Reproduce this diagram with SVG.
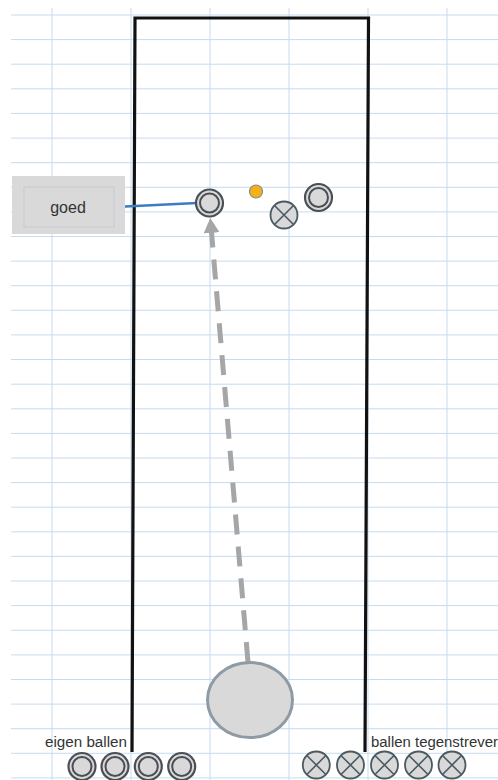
<svg xmlns="http://www.w3.org/2000/svg" width="498" height="780" viewBox="0 0 498 780">
<defs>
<style>
.grid line{stroke:#c6dbef;stroke-width:1}
.ball-o{fill:#d9d9d9;stroke:#4a4f55;stroke-width:2.2}
.ball-i{fill:none;stroke:#4a4f55;stroke-width:2}
.xb{fill:#d9d9d9;stroke:#4a5a62;stroke-width:1.8}
.xl{stroke:#4a5a62;stroke-width:1.6;fill:none}
.lbl{font-family:"Liberation Sans",Arial,sans-serif;font-size:14px;fill:#333}
</style>
<marker id="ah" markerUnits="userSpaceOnUse" markerWidth="16" markerHeight="16" viewBox="0 0 16 16" refX="15" refY="8" orient="auto">
<path d="M0,0 L15,8 L0,16 Z" fill="#a6a6a6"/>
</marker>
<g id="ownball"><circle class="ball-o" r="13.5"/><circle class="ball-i" r="9.5"/></g>
<g id="oppball"><circle class="xb" r="13.5"/><path class="xl" d="M-9.5,-9.5 L9.5,9.5 M9.5,-9.5 L-9.5,9.5"/></g>
</defs>
<rect width="498" height="780" fill="#fff"/>
<g class="grid" id="grid">
<line x1="52" y1="8" x2="52" y2="780"/>
<line x1="131" y1="8" x2="131" y2="780"/>
<line x1="210" y1="8" x2="210" y2="780"/>
<line x1="289" y1="8" x2="289" y2="780"/>
<line x1="368" y1="8" x2="368" y2="780"/>
<line x1="447" y1="8" x2="447" y2="780"/>
<line x1="11" y1="15" x2="498" y2="15"/>
<line x1="11" y1="39.6" x2="498" y2="39.6"/>
<line x1="11" y1="64.2" x2="498" y2="64.2"/>
<line x1="11" y1="88.8" x2="498" y2="88.8"/>
<line x1="11" y1="113.4" x2="498" y2="113.4"/>
<line x1="11" y1="138.1" x2="498" y2="138.1"/>
<line x1="11" y1="162.7" x2="498" y2="162.7"/>
<line x1="11" y1="187.3" x2="498" y2="187.3"/>
<line x1="11" y1="211.9" x2="498" y2="211.9"/>
<line x1="11" y1="236.5" x2="498" y2="236.5"/>
<line x1="11" y1="261.1" x2="498" y2="261.1"/>
<line x1="11" y1="285.7" x2="498" y2="285.7"/>
<line x1="11" y1="310.3" x2="498" y2="310.3"/>
<line x1="11" y1="334.9" x2="498" y2="334.9"/>
<line x1="11" y1="359.5" x2="498" y2="359.5"/>
<line x1="11" y1="384.2" x2="498" y2="384.2"/>
<line x1="11" y1="408.8" x2="498" y2="408.8"/>
<line x1="11" y1="433.4" x2="498" y2="433.4"/>
<line x1="11" y1="458" x2="498" y2="458"/>
<line x1="11" y1="482.6" x2="498" y2="482.6"/>
<line x1="11" y1="507.2" x2="498" y2="507.2"/>
<line x1="11" y1="531.8" x2="498" y2="531.8"/>
<line x1="11" y1="556.4" x2="498" y2="556.4"/>
<line x1="11" y1="581" x2="498" y2="581"/>
<line x1="11" y1="605.6" x2="498" y2="605.6"/>
<line x1="11" y1="630.3" x2="498" y2="630.3"/>
<line x1="11" y1="654.9" x2="498" y2="654.9"/>
<line x1="11" y1="679.5" x2="498" y2="679.5"/>
<line x1="11" y1="704.1" x2="498" y2="704.1"/>
<line x1="11" y1="728.7" x2="498" y2="728.7"/>
<line x1="11" y1="753.3" x2="498" y2="753.3"/>
<line x1="11" y1="777.9" x2="498" y2="777.9"/>
</g>
<path id="lane" d="M132,752 L135,18 L368.5,18 L365,752" fill="none" stroke="#111" stroke-width="3.2" stroke-linejoin="miter"/>
<g id="connectors">
<line x1="115" y1="207" x2="197" y2="203" stroke="#3b7dc4" stroke-width="2.6"/>
<line x1="248" y1="662" x2="210.3" y2="218" stroke="#a6a6a6" stroke-width="5" stroke-dasharray="20 12" marker-end="url(#ah)"/>
</g>
<g id="goed">
<rect x="12" y="176" width="113" height="58" fill="#d9d9d9"/>
<rect x="24" y="187" width="90" height="40" fill="#d9d9d9" stroke="#c4ccd6" stroke-width="1"/>
<text class="lbl" x="68" y="213" text-anchor="middle" style="font-size:16px">goed</text>
</g>
<g id="ball-goed"><use href="#ownball" x="209.5" y="203"/></g>
<g id="jack"><circle cx="256" cy="191.5" r="6.5" fill="#f5b01a" stroke="#8a8f80" stroke-width="1.2"/></g>
<g id="opp-top"><use href="#oppball" x="284" y="215"/></g>
<g id="own-top"><use href="#ownball" x="318.5" y="197.5"/></g>
<g id="bowler"><ellipse cx="250" cy="700" rx="42.5" ry="37.5" fill="#d9d9d9" stroke="#8e9ba5" stroke-width="3"/></g>
<g id="eigen-ballen">
<text class="lbl" x="45" y="747" textLength="82" lengthAdjust="spacingAndGlyphs">eigen ballen</text>
<use href="#ownball" x="82" y="766.5"/>
<use href="#ownball" x="115" y="766.5"/>
<use href="#ownball" x="148.3" y="766.5"/>
<use href="#ownball" x="181.7" y="766.5"/>
</g>
<g id="ballen-tegenstrever">
<text class="lbl" x="371" y="747" textLength="127" lengthAdjust="spacingAndGlyphs">ballen tegenstrever</text>
<use href="#oppball" x="316.3" y="765"/>
<use href="#oppball" x="350.5" y="765"/>
<use href="#oppball" x="384.5" y="765"/>
<use href="#oppball" x="418.5" y="765"/>
<use href="#oppball" x="452" y="765"/>
</g>
</svg>
